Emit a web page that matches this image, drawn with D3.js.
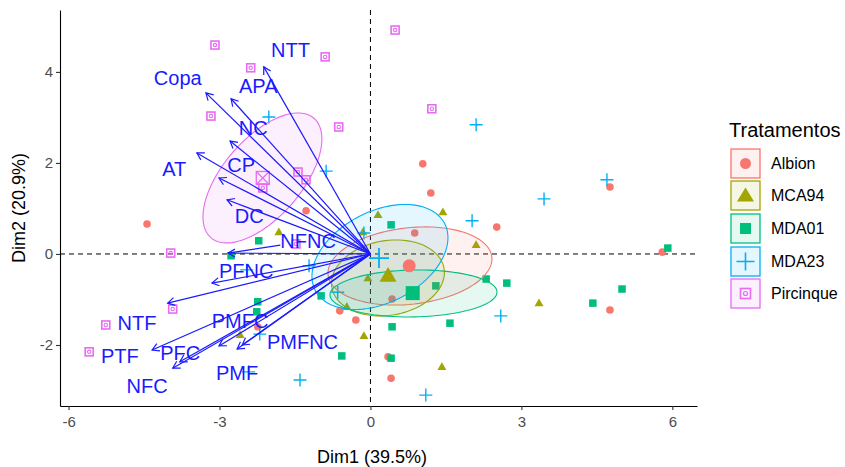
<!DOCTYPE html>
<html><head><meta charset="utf-8">
<script src="https://cdn.jsdelivr.net/npm/d3@7/dist/d3.min.js"></script>
<style>body{margin:0;background:#fff}svg{display:block}text{font-family:"Liberation Sans",Arial,sans-serif}</style>
</head><body><svg id="c" width="845" height="467"></svg>
<script>
// ---------- data ----------
const groups = ["Albion", "MCA94", "MDA01", "MDA23", "Pircinque"];
const colors = ["#F8766D", "#A3A500", "#00BF7D", "#00B0F6", "#E76BF3"];

const albionX = [1.04, 1.20, 4.76, 2.51, 0.88, 0.43, 5.80, 4.76, 0.35, 0.41, -4.44, -1.28, -2.24, -0.29, -0.61];
const albionY = [1.98, 1.34, 1.47, 0.59, 0.46, -0.99, 0.04, -1.23, -2.26, -2.73, 0.66, 0.95, -1.60, -1.45, -1.25];
const mca94X = [0.15, 1.44, 2.10, -0.15, -0.05, -0.47, 3.35, -0.13, 1.42, -1.82, -2.59];
const mca94Y = [0.86, 0.92, 0.20, 0.48, -0.53, -1.16, -1.08, -1.80, -2.48, 0.48, -1.78];
const mda01X = [0.41, 5.91, 2.30, 2.71, 5.00, 4.42, 1.30, 0.43, 1.58, 0.41, -0.98, -2.22, -2.77, -2.24, -2.26, -0.57];
const mda01Y = [0.64, 0.13, -0.55, -0.64, -0.77, -1.08, -0.70, -1.60, -1.52, -2.29, -0.92, 0.29, -0.04, -1.05, -1.27, -2.24];
const mda23X = [2.10, 3.45, 4.70, 2.02, -0.13, 2.59, 1.10, -0.65, -1.22, -1.40, -2.42, -2.20, -2.46, -2.02, -0.88];
const mda23Y = [2.84, 1.21, 1.63, 0.73, 0.46, -1.36, -3.10, -0.84, -0.26, -2.77, -2.59, -1.76, -0.35, 3.01, 1.82];
const pircX = [-3.09, -2.38, -0.90, 0.49, -3.17, -0.63, 1.22, -1.44, -1.28, -2.14, -1.48, -3.97, -3.93, -5.26, -5.59];
const pircY = [4.59, 4.09, 4.33, 4.92, 3.03, 2.79, 3.19, 1.80, 1.63, 1.45, 0.22, 0.02, -1.21, -1.56, -2.15];

const meanX = [0.77, 0.35, 0.84, 0.17, -2.14];
const meanY = [-0.26, -0.48, -0.86, -0.09, 1.67];

// confidence ellipses: centre and two conjugate semi-axis vectors (data units)
const ellCx = [0.785, 0.348, 0.855, 0.189, -2.147];
const ellCy = [-0.264, -0.527, -0.868, -0.066, 1.670];
const ellUx = [1.628, 1.115, 1.660, 1.286, 1.024];
const ellUy = [0.200, 0.209, 0.033, 0.734, 1.312];
const ellVx = [0.083, 0.123, 0.008, 0.416, 0.590];
const ellVy = [-0.835, -0.809, -0.515, -0.890, -0.563];

const varNames = ["NTT", "Copa", "APA", "NC", "AT", "CP", "DC", "NFNC", "PFNC", "NTF", "PTF", "NFC", "PFC", "PMFC", "PMF", "PMFNC"];
const varX = [-2.12, -3.27, -2.77, -2.79, -3.45, -3.01, -2.85, -2.83, -3.15, -4.03, -4.34, -3.93, -3.79, -3.01, -2.65, -2.55];
const varY = [4.11, 3.54, 3.41, 2.48, 2.22, 1.67, 1.19, 0.02, -0.64, -1.08, -2.11, -2.51, -2.37, -2.02, -2.09, -2.00];
const labX = [-1.59, -3.83, -2.23, -2.33, -3.90, -2.57, -2.41, -1.24, -2.47, -4.64, -4.98, -4.44, -3.78, -2.59, -2.65, -1.35];
const labY = [4.48, 3.87, 3.69, 2.77, 1.87, 1.96, 0.84, 0.29, -0.37, -1.52, -2.24, -2.90, -2.18, -1.47, -2.62, -1.93];

const xTicks = [-6, -3, 0, 3, 6];
const yTicks = [-2, 0, 2, 4];
const xTitle = "Dim1 (39.5%)";
const yTitle = "Dim2 (20.9%)";
const legendTitle = "Tratamentos";

// ---------- layout ----------
const svg = d3.select("#c");
const L = 60, R = 697, T = 10, B = 406;
const x = d3.scaleLinear().domain([-6.17, 6.49]).range([L, R]);
const y = d3.scaleLinear().domain([-3.34, 5.36]).range([B, T]);

const groupX = [albionX, mca94X, mda01X, mda23X, pircX];
const groupY = [albionY, mca94Y, mda01Y, mda23Y, pircY];

// zero lines
svg.append("line").attr("x1", L).attr("x2", R).attr("y1", y(0)).attr("y2", y(0))
  .attr("stroke", "#000").attr("stroke-width", 1).attr("stroke-dasharray", "5,4");
svg.append("line").attr("x1", x(0)).attr("x2", x(0)).attr("y1", T).attr("y2", B)
  .attr("stroke", "#000").attr("stroke-width", 1).attr("stroke-dasharray", "5,4");

// shape drawing
function drawShape(g, gi, cx, cy, big) {
  const col = colors[gi];
  if (gi === 0) {
    g.append("circle").attr("cx", cx).attr("cy", cy).attr("r", big ? 6.5 : 3.8).attr("fill", col);
  } else if (gi === 1) {
    const s = big ? 17 : 9;
    const h = s * 0.866;
    g.append("path").attr("d", `M${cx},${cy - h * 0.6}L${cx + s / 2},${cy + h * 0.4}L${cx - s / 2},${cy + h * 0.4}Z`).attr("fill", col);
  } else if (gi === 2) {
    const s = big ? 14 : 7.5;
    g.append("rect").attr("x", cx - s / 2).attr("y", cy - s / 2).attr("width", s).attr("height", s).attr("fill", col);
  } else if (gi === 3) {
    const s = big ? 10 : 6.5;
    g.append("path").attr("d", `M${cx - s},${cy}H${cx + s}M${cx},${cy - s}V${cy + s}`)
      .attr("stroke", col).attr("stroke-width", big ? 1.8 : 1.4).attr("fill", "none");
  } else {
    const s = big ? 13 : 8;
    g.append("rect").attr("x", cx - s / 2).attr("y", cy - s / 2).attr("width", s).attr("height", s)
      .attr("fill", "none").attr("stroke", col).attr("stroke-width", big ? 1.3 : 1.6);
    if (big) {
      g.append("path").attr("d", `M${cx - s / 2},${cy - s / 2}L${cx + s / 2},${cy + s / 2}M${cx + s / 2},${cy - s / 2}L${cx - s / 2},${cy + s / 2}`)
        .attr("stroke", col).attr("stroke-width", 1.2);
    } else {
      g.append("circle").attr("cx", cx).attr("cy", cy).attr("r", 1.7).attr("fill", "none").attr("stroke", col).attr("stroke-width", 1.1);
    }
  }
}

// individual points
const gp = svg.append("g");
groupX.forEach((xs, gi) => {
  xs.forEach((v, i) => drawShape(gp, gi, x(v), y(groupY[gi][i]), false));
});

// ellipses
const ge = svg.append("g");
const ts = d3.range(0, 101).map(i => i / 100 * 2 * Math.PI);
groups.forEach((gname, gi) => {
  const pts = ts.map(t => [
    x(ellCx[gi] + ellUx[gi] * Math.cos(t) + ellVx[gi] * Math.sin(t)),
    y(ellCy[gi] + ellUy[gi] * Math.cos(t) + ellVy[gi] * Math.sin(t))
  ]);
  ge.append("path").attr("d", d3.line().curve(d3.curveLinearClosed)(pts))
    .attr("fill", colors[gi]).attr("fill-opacity", 0.1)
    .attr("stroke", colors[gi]).attr("stroke-width", 1.1);
});

// mean points
const gm = svg.append("g");
groups.forEach((gname, gi) => drawShape(gm, gi, x(meanX[gi]), y(meanY[gi]), true));

// variable arrows
const ga = svg.append("g");
const vcol = "#1a1aff";
varNames.forEach((n, i) => {
  const x0 = x(0), y0 = y(0), x1 = x(varX[i]), y1 = y(varY[i]);
  ga.append("line").attr("x1", x0).attr("y1", y0).attr("x2", x1).attr("y2", y1)
    .attr("stroke", vcol).attr("stroke-width", 1.2);
  const ang = Math.atan2(y1 - y0, x1 - x0);
  const len = 8, a = Math.PI / 6;
  const p1 = [x1 - len * Math.cos(ang - a), y1 - len * Math.sin(ang - a)];
  const p2 = [x1 - len * Math.cos(ang + a), y1 - len * Math.sin(ang + a)];
  ga.append("path").attr("d", `M${p1[0]},${p1[1]}L${x1},${y1}L${p2[0]},${p2[1]}`)
    .attr("fill", "none").attr("stroke", vcol).attr("stroke-width", 1.2);
});

// labels
const gl = svg.append("g");
varNames.forEach((n, i) => {
  const lx = x(labX[i]), ly = y(labY[i]);
  const t = gl.append("text").attr("x", lx).attr("y", ly).attr("dy", "0.36em")
    .attr("text-anchor", "middle").attr("font-size", 20).attr("fill", vcol).text(n);
  const tx = x(varX[i]), ty = y(varY[i]);
  const d = Math.hypot(lx - tx, ly - ty);
  if (d > 70) {
    const bb = t.node().getBBox();
    const dx = tx - lx, dy = ty - ly;
    const sx = Math.abs(dx) > 0 ? (bb.width / 2) / Math.abs(dx) : Infinity;
    const sy = Math.abs(dy) > 0 ? (bb.height / 2) / Math.abs(dy) : Infinity;
    const s = Math.min(sx, sy);
    gl.append("line").attr("x1", lx + dx * s).attr("y1", ly + dy * s).attr("x2", tx).attr("y2", ty)
      .attr("stroke", vcol).attr("stroke-width", 1.2);
  }
});

// axes
const xAxis = svg.append("g").attr("transform", `translate(0,${B})`)
  .call(d3.axisBottom(x).tickValues(xTicks).tickSize(4).tickSizeOuter(0).tickFormat(d3.format("d")));
const yAxis = svg.append("g").attr("transform", `translate(${L},0)`)
  .call(d3.axisLeft(y).tickValues(yTicks).tickSize(4).tickSizeOuter(0).tickFormat(d3.format("d")));
[xAxis, yAxis].forEach(ax => {
  ax.select(".domain").attr("stroke", "#000").attr("stroke-width", 1.1);
  ax.selectAll(".tick line").attr("stroke", "#333").attr("stroke-width", 1.1);
  ax.selectAll(".tick text").attr("fill", "#4D4D4D").attr("font-size", 15)
    .attr("font-family", '"Liberation Sans",Arial,sans-serif');
});
xAxis.selectAll(".tick text").attr("y", 10);
yAxis.selectAll(".tick text").attr("x", -7);
svg.selectAll(".tick text").text(function(d) { return String(d); });

svg.append("text").attr("x", 372).attr("y", 463).attr("text-anchor", "middle")
  .attr("font-size", 18).attr("fill", "#000").text(xTitle);
svg.append("text").attr("transform", `translate(25,${(T + B) / 2}) rotate(-90)`)
  .attr("text-anchor", "middle").attr("font-size", 18).attr("fill", "#000").text(yTitle);

// legend
const lg = svg.append("g");
lg.append("text").attr("x", 729).attr("y", 137).attr("font-size", 20).attr("fill", "#000").text(legendTitle);
const keyTop = [149, 181, 214, 247, 279];
groups.forEach((gname, gi) => {
  const ky = keyTop[gi];
  lg.append("rect").attr("x", 731).attr("y", ky).attr("width", 29).attr("height", 29)
    .attr("fill", colors[gi]).attr("fill-opacity", 0.1).attr("stroke", colors[gi]).attr("stroke-width", 1.3);
  const cx = 745.5, cy = ky + 14.5;
  const kg = lg.append("g");
  if (gi === 0) kg.append("circle").attr("cx", cx).attr("cy", cy).attr("r", 5.5).attr("fill", colors[gi]);
  else if (gi === 1) kg.append("path").attr("d", `M${cx},${cy - 8}L${cx + 8.5},${cy + 6}L${cx - 8.5},${cy + 6}Z`).attr("fill", colors[gi]);
  else if (gi === 2) kg.append("rect").attr("x", cx - 5.5).attr("y", cy - 5.5).attr("width", 11).attr("height", 11).attr("fill", colors[gi]);
  else if (gi === 3) kg.append("path").attr("d", `M${cx - 9},${cy}H${cx + 9}M${cx},${cy - 9}V${cy + 9}`).attr("stroke", colors[gi]).attr("stroke-width", 1.6);
  else {
    kg.append("rect").attr("x", cx - 5).attr("y", cy - 5).attr("width", 10).attr("height", 10).attr("fill", "none").attr("stroke", colors[gi]).attr("stroke-width", 1.6);
    kg.append("circle").attr("cx", cx).attr("cy", cy).attr("r", 2).attr("fill", "none").attr("stroke", colors[gi]).attr("stroke-width", 1.2);
  }
  lg.append("text").attr("x", 771).attr("y", cy).attr("dy", "0.36em").attr("font-size", 16).attr("fill", "#000").text(gname);
});
</script></body></html>
